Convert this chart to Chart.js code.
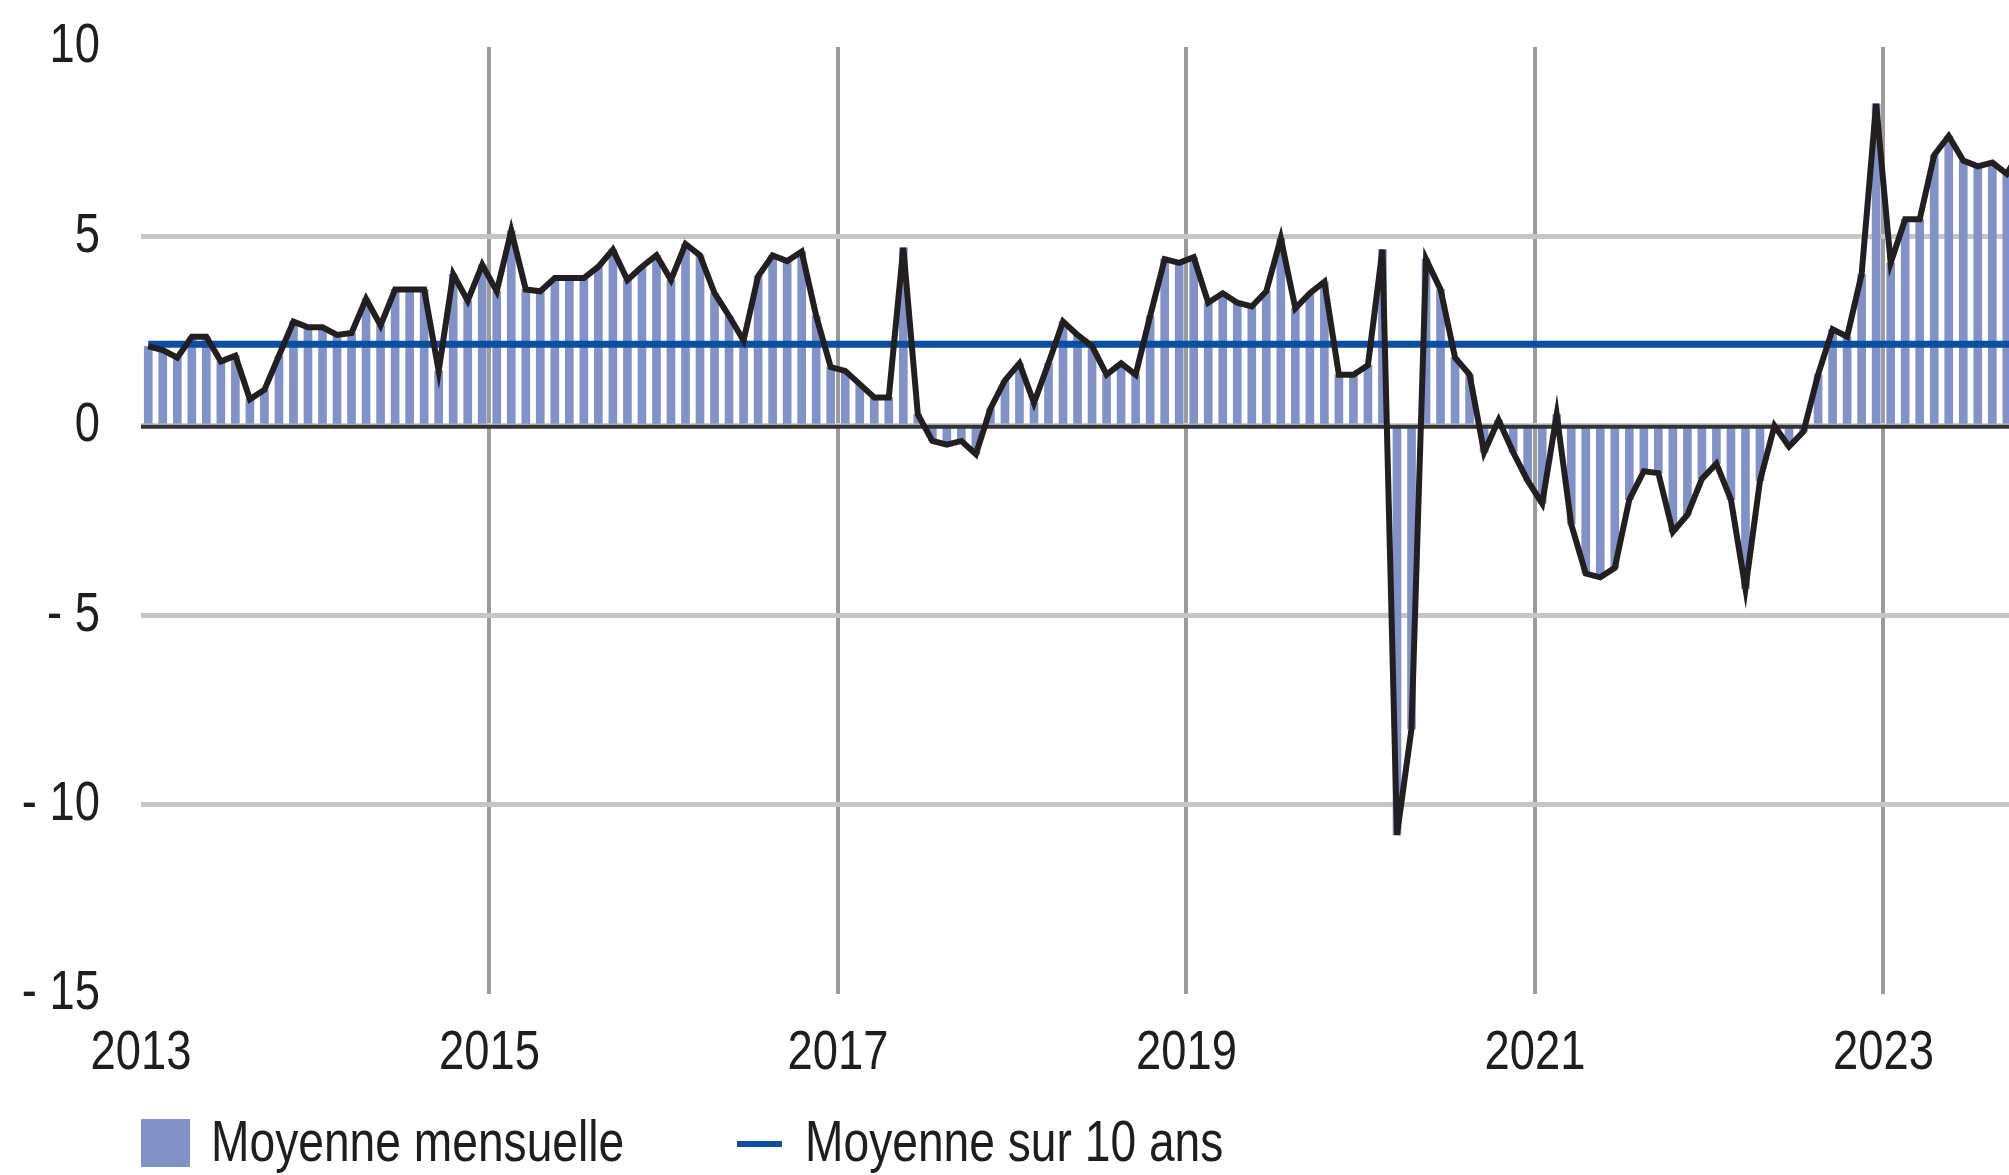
<!DOCTYPE html>
<html><head><meta charset="utf-8">
<script src="https://cdn.jsdelivr.net/npm/chart.js@4.4.1/dist/chart.umd.min.js"></script>
<style>html,body{margin:0;padding:0;background:#fff;overflow:hidden}canvas{display:block}</style>
</head><body>
<canvas id="c" width="2009" height="1175"></canvas>
<script>
// ---- Données ----
const annees = [2013, 2014, 2015, 2016, 2017, 2018, 2019, 2020, 2021, 2022, 2023];
const valeursMensuelles = [
  // 2013
  2.1, 2.0, 1.8, 2.35, 2.35, 1.7, 1.85, 0.7, 0.95, 1.85, 2.75, 2.6,
  // 2014
  2.6, 2.4, 2.45, 3.35, 2.65, 3.6, 3.6, 3.6, 1.45, 4.0, 3.3, 4.25,
  // 2015
  3.55, 5.15, 3.6, 3.55, 3.9, 3.9, 3.9, 4.2, 4.65, 3.85, 4.2, 4.5,
  // 2016
  3.85, 4.8, 4.5, 3.5, 2.9, 2.25, 3.95, 4.5, 4.35, 4.6, 2.9, 1.55,
  // 2017
  1.45, 1.1, 0.75, 0.75, 4.7, 0.3, -0.4, -0.5, -0.4, -0.75, 0.45, 1.2,
  // 2018
  1.65, 0.6, 1.65, 2.75, 2.4, 2.1, 1.35, 1.65, 1.35, 2.9, 4.4, 4.3,
  // 2019
  4.45, 3.25, 3.5, 3.25, 3.15, 3.55, 4.95, 3.1, 3.5, 3.8, 1.35, 1.35,
  // 2020
  1.6, 4.65, -10.8, -8.0, 4.4, 3.6, 1.8, 1.35, -0.7, 0.15, -0.7, -1.45,
  // 2021
  -2.05, 0.3, -2.6, -3.9, -4.0, -3.75, -1.95, -1.2, -1.25, -2.8, -2.35, -1.4,
  // 2022
  -1.0, -1.95, -4.3, -1.45, 0.0, -0.55, -0.15, 1.35, 2.55, 2.35, 4.0, 8.5,
  // 2023
  4.3, 5.45, 5.45, 7.15, 7.65, 7.0, 6.85, 6.95, 6.65, 7.3
];
const moyenne10ans = 2.15;
const etiquettesAnnees = [2013, 2015, 2017, 2019, 2021, 2023];
const ticksY = [-15, -10, -5, 0, 5, 10];
const libelles = ['Moyenne mensuelle', 'Moyenne sur 10 ans'];

// catégories (mois)
const mois = [];
annees.forEach(a => { for (let m = 1; m <= 12; m++) mois.push(a + '-' + String(m).padStart(2, '0')); });
const categories = mois.slice(0, valeursMensuelles.length);

// ---- Styles ----
const POLICE = "'Liberation Sans', Arial, sans-serif";
const ETROIT = 0.81; // texte condensé horizontalement
const COUL_BARRE = '#8391c9';
const COUL_MOY = '#0b4ea2';
const COUL_COURBE = '#231f20';
const TXT = '#1e1e1e';

const ptsBarres = categories.map((c, i) => ({ x: i + 0.5, y: valeursMensuelles[i] }));
const ptsMoy = categories.map((c, i) => ({ x: i + 0.5, y: moyenne10ans }));

// texte étroit (police condensée simulée)
const texteEtroit = {
  id: 'texteEtroit',
  beforeInit(chart) {
    const ctx = chart.ctx;
    const orig = ctx.fillText.bind(ctx);
    ctx.fillText = function (text, x, y, maxWidth) {
      ctx.save();
      ctx.translate(x, y);
      ctx.scale(ETROIT, 1);
      if (maxWidth === undefined || maxWidth === null) orig(text, 0, 0);
      else orig(text, 0, 0, maxWidth / ETROIT);
      ctx.restore();
    };
  }
};

const zeroLine = {
  id: 'zeroLine',
  afterDatasetDraw(chart, args) {
    if (args.meta.type !== 'bar') return;
    const { ctx, chartArea } = chart;
    const y = chart.scales.y.getPixelForValue(0);
    ctx.save();
    ctx.strokeStyle = '#333333';
    ctx.lineWidth = 4;
    ctx.beginPath();
    ctx.moveTo(chartArea.left, y + 1);
    ctx.lineTo(chartArea.right, y + 1);
    ctx.stroke();
    ctx.restore();
  }
};

const legende = {
  id: 'legendePerso',
  afterDraw(chart) {
    const ctx = chart.ctx;
    const ds = chart.data.datasets;
    ctx.save();
    ctx.font = '57px ' + POLICE;
    ctx.textBaseline = 'middle';
    ctx.textAlign = 'left';
    ctx.fillStyle = ds[0].backgroundColor;
    ctx.fillRect(141, 1119, 49, 48);
    ctx.fillStyle = TXT;
    ctx.fillText(ds[0].label, 211, 1145);
    ctx.strokeStyle = ds[1].borderColor;
    ctx.lineWidth = 6;
    ctx.beginPath();
    ctx.moveTo(737, 1144);
    ctx.lineTo(782, 1144);
    ctx.stroke();
    ctx.fillStyle = TXT;
    ctx.fillText(ds[1].label, 805, 1145);
    ctx.restore();
  }
};

new Chart(document.getElementById('c'), {
  type: 'bar',
  data: {
    datasets: [
      {
        type: 'bar', label: libelles[0], data: ptsBarres,
        backgroundColor: COUL_BARRE, borderWidth: 0, barThickness: 8, order: 3
      },
      {
        type: 'line', label: libelles[1], data: ptsMoy,
        borderColor: COUL_MOY, borderWidth: 7, pointRadius: 0, tension: 0, order: 2
      },
      {
        type: 'line', label: libelles[0] + ' (courbe)', data: ptsBarres,
        borderColor: COUL_COURBE, borderWidth: 6, pointRadius: 0, tension: 0, order: 1
      }
    ]
  },
  options: {
    responsive: false,
    animation: false,
    events: [],
    layout: { padding: { left: 0, right: 0, top: 47, bottom: 0 } },
    plugins: { legend: { display: false }, tooltip: { enabled: false } },
    scales: {
      x: {
        type: 'linear', min: 0, max: 128.65, offset: false,
        afterBuildTicks(scale) { scale.ticks = etiquettesAnnees.map(a => ({ value: (a - 2013) * 12 })); },
        afterFit(scale) { scale.height = 181; scale.paddingLeft = 0; scale.paddingRight = 0; },
        ticks: {
          callback: v => String(2013 + v / 12),
          font: { family: POLICE, size: 56 }, color: TXT, padding: 26, maxRotation: 0, autoSkip: false
        },
        grid: {
          offset: false, drawTicks: false,
          color: c => (c.tick && c.tick.value === 0) ? 'rgba(0,0,0,0)' : '#9b9b9b',
          lineWidth: 4
        },
        border: { display: false }
      },
      y: {
        min: -15, max: 10,
        afterBuildTicks(scale) { scale.ticks = ticksY.map(v => ({ value: v })); },
        afterFit(scale) { scale.width = 141; scale.paddingTop = 0; scale.paddingBottom = 0; },
        ticks: {
          callback: v => v < 0 ? '- ' + (-v) : String(v),
          font: { family: POLICE, size: 56 }, color: TXT, padding: 41
        },
        grid: {
          drawTicks: false,
          color: c => {
            const v = c.tick ? c.tick.value : null;
            if (v === 10 || v === -15) return 'rgba(0,0,0,0)';
            if (v === 0) return '#d0d0d0';
            return '#c6c6c6';
          },
          lineWidth: 5
        },
        border: { display: false }
      }
    }
  },
  plugins: [texteEtroit, zeroLine, legende]
});
</script>
</body></html>
